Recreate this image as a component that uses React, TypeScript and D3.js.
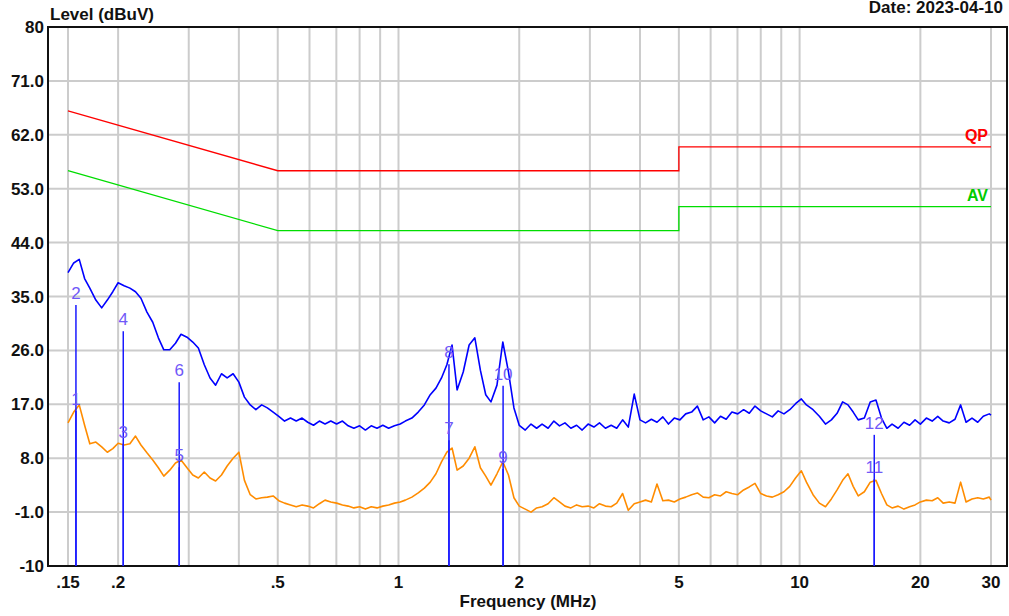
import React from 'react';
import * as d3 from 'd3';

// scan frequencies (MHz), shared by both traces
const freqs = [
  0.150, 0.155, 0.160, 0.165, 0.170, 0.176, 0.182, 0.188, 0.194, 0.200,
  0.207, 0.214, 0.221, 0.228, 0.236, 0.244, 0.252, 0.260, 0.269, 0.278,
  0.287, 0.297, 0.307, 0.317, 0.328, 0.339, 0.350, 0.362, 0.374, 0.387,
  0.400, 0.413, 0.427, 0.441, 0.456, 0.471, 0.487, 0.503, 0.520, 0.538,
  0.556, 0.575, 0.594, 0.614, 0.635, 0.656, 0.678, 0.701, 0.725, 0.749,
  0.774, 0.800, 0.827, 0.855, 0.884, 0.914, 0.945, 0.977, 1.01, 1.04,
  1.08, 1.12, 1.16, 1.20, 1.24, 1.28, 1.32, 1.36, 1.40, 1.45,
  1.50, 1.55, 1.60, 1.65, 1.70, 1.76, 1.82, 1.88, 1.94, 2.00,
  2.07, 2.14, 2.21, 2.28, 2.36, 2.44, 2.52, 2.60, 2.69, 2.78,
  2.87, 2.97, 3.07, 3.17, 3.28, 3.39, 3.50, 3.62, 3.74, 3.87,
  4.00, 4.13, 4.27, 4.41, 4.56, 4.71, 4.87, 5.03, 5.20, 5.38,
  5.56, 5.75, 5.94, 6.14, 6.35, 6.56, 6.78, 7.01, 7.25, 7.49,
  7.74, 8.00, 8.27, 8.55, 8.84, 9.14, 9.45, 9.77, 10.1, 10.4,
  10.8, 11.2, 11.6, 12.0, 12.4, 12.8, 13.2, 13.6, 14.0, 14.5,
  15.0, 15.5, 16.0, 16.5, 17.0, 17.6, 18.2, 18.8, 19.4, 20.0,
  20.7, 21.4, 22.1, 22.8, 23.6, 24.4, 25.2, 26.0, 26.9, 27.8,
  28.7, 29.7, 30.0,
];

// peak scan (blue), dBuV
const peakLevels = [
  39.0, 40.6, 41.2, 38.0, 36.4, 34.4, 33.1, 34.4, 35.8, 37.3,
  36.8, 36.4, 35.8, 34.7, 32.4, 30.7, 28.1, 26.1, 26.1, 27.2,
  28.7, 28.2, 27.4, 26.4, 23.6, 21.4, 20.2, 22.1, 21.4, 22.1,
  20.7, 18.2, 16.9, 16.1, 16.9, 16.4, 15.7, 15.0, 14.2, 14.7,
  14.2, 14.7, 14.0, 13.5, 14.2, 13.7, 14.2, 13.7, 14.2, 13.4,
  13.0, 13.4, 12.7, 13.4, 13.0, 13.5, 13.0, 13.4, 13.7, 14.2,
  14.7, 15.7, 16.9, 18.6, 19.7, 21.4, 23.6, 26.9, 19.4, 22.4,
  26.9, 28.1, 22.7, 18.6, 17.4, 20.2, 27.4, 22.4, 16.4, 13.5,
  12.7, 13.7, 13.0, 13.7, 13.0, 14.2, 13.4, 13.9, 13.0, 13.5,
  12.7, 13.7, 13.2, 13.9, 13.0, 13.5, 13.0, 14.4, 13.2, 18.7,
  14.4, 13.9, 14.5, 14.0, 14.9, 13.7, 14.7, 14.4, 15.4, 15.7,
  16.7, 14.4, 14.9, 13.9, 15.0, 14.5, 15.7, 15.4, 16.1, 15.5,
  16.7, 15.9, 15.4, 14.9, 15.9, 15.4, 16.1, 17.1, 17.9, 16.9,
  16.1, 15.0, 13.7, 14.4, 15.5, 17.4, 16.9, 15.7, 14.4, 14.7,
  17.4, 17.7, 14.7, 13.0, 13.7, 13.0, 14.0, 13.5, 14.4, 13.7,
  14.7, 14.2, 15.0, 14.2, 13.9, 14.5, 16.9, 14.0, 14.7, 14.0,
  15.0, 15.4, 15.2,
];

// average scan (orange), dBuV
const avgLevels = [
  13.9, 15.7, 16.9, 13.5, 10.4, 10.7, 9.9, 9.0, 9.6, 10.5,
  10.2, 10.4, 11.7, 10.2, 8.9, 7.7, 6.4, 5.0, 6.0, 7.2,
  7.7, 6.4, 5.2, 4.7, 5.7, 4.7, 4.2, 5.2, 6.7, 8.0,
  9.0, 4.3, 1.9, 1.2, 1.4, 1.5, 1.7, 0.9, 0.5, 0.2,
  -0.1, 0.2, 0.0, -0.3, 0.4, 1.0, 0.7, 0.5, 0.2, 0.0,
  -0.3, -0.1, -0.5, -0.1, -0.3, 0.0, 0.2, 0.5, 0.7, 1.0,
  1.5, 2.2, 3.0, 4.0, 5.4, 7.4, 9.0, 9.7, 6.0, 6.7,
  8.0, 9.9, 6.4, 5.0, 3.5, 5.4, 7.4, 5.2, 1.4, 0.0,
  -0.5, -1.0, -0.3, -0.1, 0.4, 1.4, 0.7, 0.0, -0.3, 0.2,
  -0.1, 0.0, -0.3, 0.4, 0.0, -0.1, 0.5, 2.1, -0.7, 0.4,
  0.7, 1.0, 0.7, 3.7, 0.9, 1.0, 0.7, 1.2, 1.5, 1.9,
  2.2, 1.5, 1.4, 1.9, 1.7, 2.4, 2.1, 1.9, 2.7, 3.2,
  3.8, 2.1, 1.7, 1.5, 1.9, 2.4, 3.3, 4.7, 5.9, 4.0,
  1.9, 0.5, -0.1, 1.2, 2.7, 4.3, 5.4, 3.3, 1.7, 2.4,
  4.0, 4.3, 2.1, 0.2, -0.3, 0.0, -0.5, -0.1, 0.2, 0.7,
  1.0, 0.9, 1.4, 0.5, 0.7, 0.5, 4.0, 0.7, 1.2, 1.4,
  1.2, 1.5, 1.0,
];

// limit lines
const qpLimitFreqs = [0.15, 0.5, 5, 5, 30];
const qpLimitLevels = [66, 56, 56, 60, 60];
const avLimitFreqs = [0.15, 0.5, 5, 5, 30];
const avLimitLevels = [56, 46, 46, 50, 50];

// markers
const markerNums = ['1', '2', '3', '4', '5', '6', '7', '8', '9', '10', '11', '12'];
const markerFreqs = [0.157, 0.157, 0.206, 0.206, 0.284, 0.284, 1.336, 1.336, 1.823, 1.823, 15.35, 15.35];
const markerLevels = [15.9, 33.6, 10.4, 29.2, 6.5, 20.7, 11.0, 23.7, 6.2, 20.1, 4.5, 11.9];

// axes
const yTicks = [80, 71, 62, 53, 44, 35, 26, 17, 8, -1, -10];
const yTickLabels = ['80', '71.0', '62.0', '53.0', '44.0', '35.0', '26.0', '17.0', '8.0', '-1.0', '-10'];
const xGrid = [0.15, 0.2, 0.3, 0.4, 0.5, 0.6, 0.7, 0.8, 0.9, 1, 2, 3, 4, 5, 6, 7, 8, 9, 10, 20, 30];
const xTicks = [0.15, 0.2, 0.5, 1, 2, 5, 10, 20, 30];
const xTickLabels = ['.15', '.2', '.5', '1', '2', '5', '10', '20', '30'];

const W = 1009;
const H = 616;
const left = 48, right = 1007, top = 27, bottom = 566;
const font = '"Liberation Sans", Arial, sans-serif';

export default function App() {
  const x = d3.scaleLog().domain([0.15, 30]).range([68, 991]);
  const y = d3.scaleLinear().domain([-10, 80]).range([bottom, top]);

  const line = d3.line<[number, number]>()
    .x(d => x(d[0]))
    .y(d => y(d[1]));

  const peakPath = line(freqs.map((f, i) => [f, peakLevels[i]] as [number, number])) || '';
  const avgPath = line(freqs.map((f, i) => [f, avgLevels[i]] as [number, number])) || '';
  const qpPath = line(qpLimitFreqs.map((f, i) => [f, qpLimitLevels[i]] as [number, number])) || '';
  const avPath = line(avLimitFreqs.map((f, i) => [f, avLimitLevels[i]] as [number, number])) || '';

  return (
    <svg width={W} height={H} style={{ position: 'absolute', left: 0, top: 0, background: '#fff' }}
      fontFamily={font}>
      {/* grid */}
      <g stroke="#cccccc" strokeWidth={2}>
        {xGrid.map(f => (
          <line key={'gx' + f} x1={x(f)} x2={x(f)} y1={top} y2={bottom} />
        ))}
        {yTicks.slice(1, -1).map(v => (
          <line key={'gy' + v} x1={left} x2={right} y1={y(v)} y2={y(v)} />
        ))}
      </g>

      {/* frame */}
      <rect x={left} y={top} width={right - left} height={bottom - top}
        fill="none" stroke="#111" strokeWidth={2} />

      {/* limits */}
      <path d={qpPath} fill="none" stroke="#ff0000" strokeWidth={1.3} />
      <path d={avPath} fill="none" stroke="#00dd00" strokeWidth={1.3} />
      <text x={988} y={y(60) - 6} textAnchor="end" fill="#ff0000" fontWeight="bold" fontSize={16}>QP</text>
      <text x={988} y={y(50) - 6} textAnchor="end" fill="#00cc00" fontWeight="bold" fontSize={16}>AV</text>

      {/* traces */}
      <path d={avgPath} fill="none" stroke="#ff8c00" strokeWidth={1.6} strokeLinejoin="round" />
      <path d={peakPath} fill="none" stroke="#0000ff" strokeWidth={1.6} strokeLinejoin="round" />

      {/* markers */}
      <g>
        {markerFreqs.map((f, i) => (
          <line key={'ml' + i} x1={x(f)} x2={x(f)} y1={y(markerLevels[i])} y2={bottom}
            stroke="#1a1aff" strokeWidth={1.5} />
        ))}
        {markerFreqs.map((f, i) => (
          <text key={'mt' + i} x={x(f)} y={y(markerLevels[i]) - 6} textAnchor="middle"
            fill="#7058f8" fontSize={17}>{markerNums[i]}</text>
        ))}
      </g>

      {/* axis labels */}
      <g fontWeight="bold" fontSize={17} fill="#111">
        {yTicks.map((v, i) => (
          <text key={'yl' + v} x={44} y={y(v) + 6} textAnchor="end">{yTickLabels[i]}</text>
        ))}
        {xTicks.map((f, i) => (
          <text key={'xl' + f} x={x(f)} y={588} textAnchor="middle">{xTickLabels[i]}</text>
        ))}
        <text x={50} y={20}>Level (dBuV)</text>
        <text x={1003} y={13} textAnchor="end">Date: 2023-04-10</text>
        <text x={528} y={607} textAnchor="middle">Frequency (MHz)</text>
      </g>
    </svg>
  );
}
